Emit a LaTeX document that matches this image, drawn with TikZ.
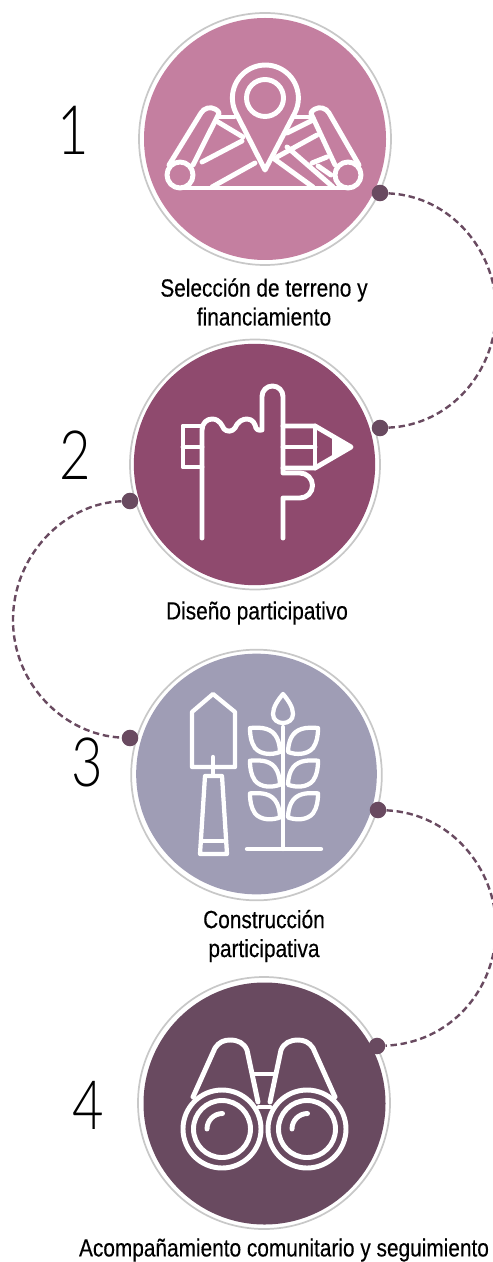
\documentclass[tikz,border=0pt]{standalone}
\usepackage{fontspec}
\setmainfont[FakeStretch=0.84,FakeBold=0.35]{Liberation Sans}
\newfontfamily\numfont[FakeStretch=0.8]{Lato Light}
\definecolor{cone}{HTML}{C47FA0}
\definecolor{ctwo}{HTML}{8F4A6E}
\definecolor{cthree}{HTML}{9F9DB5}
\definecolor{cfour}{HTML}{694A60}
\definecolor{ring}{HTML}{C8C8C8}
\tikzset{
  ringline/.style={draw=ring,line width=1.3pt},
  dot/.style={circle,fill=cfour,inner sep=0pt,minimum size=12.4pt},
  link/.style={draw=cfour,line width=1.8pt,dash pattern=on 4.8pt off 2.8pt},
  ic/.style={draw=white,line width=3.7pt,line join=round,line cap=round},
  icthin/.style={draw=white,line width=3.2pt,line join=round,line cap=round},
  captext/.style={font=\fontsize{18.6}{21.7}\selectfont,text=black,inner sep=0pt,align=center},
  num/.style={font=\fontsize{51}{60}\numfont,text=black,inner sep=0pt}
}
\begin{document}
\begin{tikzpicture}[x=0.75pt,y=-0.75pt]
\useasboundingbox (0,0) rectangle (492,1262);
% discs
\node[circle,ringline,inner sep=0pt,minimum size=189pt] (r1) at (265,139) {};
\node[circle,fill=cone,inner sep=0pt,minimum size=181.5pt] (c1) at (265,139) {};
\node[circle,ringline,inner sep=0pt,minimum size=187.5pt] (r2) at (255,464.5) {};
\node[circle,fill=ctwo,inner sep=0pt,minimum size=181pt] (c2) at (254.5,464.5) {};
\node[circle,ringline,inner sep=0pt,minimum size=188pt] (r3) at (256.5,775) {};
\node[circle,fill=cthree,inner sep=0pt,minimum size=180.5pt] (c3) at (256.5,774) {};
\node[circle,ringline,inner sep=0pt,minimum size=189pt] (r4) at (264,1103) {};
\node[circle,fill=cfour,inner sep=0pt,minimum size=181.5pt] (c4) at (264.5,1103.5) {};
% dots
\node[dot] (d1) at (380,193) {};
\node[dot] (d2) at (380,428) {};
\node[dot] (d3) at (130,501) {};
\node[dot] (d4) at (130,738) {};
\node[dot] (d5) at (378,810) {};
\node[dot] (d6) at (377,1046) {};
% connectors
\draw[link] (d1) .. controls (450,196) and (496,250) .. (496,310) .. controls (496,372) and (450,425) .. (d2);
\draw[link] (d3) .. controls (65,503) and (13,555) .. (13,620) .. controls (13,685) and (65,735) .. (d4);
\draw[link] (d5) .. controls (450,813) and (496,868) .. (496,928) .. controls (496,990) and (450,1043) .. (d6);
% icon 1 map
\begin{scope}[ic]
\draw (265,170) -- (236,113) arc[start angle=153,end angle=387,radius=33] -- cycle;
\draw (265,98) circle[radius=18.5];
\draw (180,175) circle[radius=13];
\draw (348,175) circle[radius=13];
\draw (180,188) -- (348,188);
\draw (169,165) -- (201,113) arc[start angle=210,end angle=330,radius=10.5] -- (193,165);
\draw (359,165) -- (329,113) arc[start angle=330,end angle=210,radius=10.5] -- (335,165);
\draw (220,117) -- (234,117);
\draw (294,117) -- (310,117);
\draw (218,122) -- (243,137);
\draw (202,162) -- (242,141);
\draw (212,187) -- (255,163);
\draw (273,158) -- (313,187);
\draw (287,147) -- (333,187);
\draw (277,157) -- (317,135);
\draw (287,133) -- (313,120);
\draw (312,163) -- (327,157);
\draw (318,166) -- (331,175);
\end{scope}
% icon 2 hand
\begin{scope}[ic]
\draw (202,538) -- (202,430) .. controls (202,423) and (207,419) .. (212,419) .. controls (220,419) and (222,426) .. (224,429) .. controls (227,432) and (232,432) .. (235,428) .. controls (238,421) and (243,419) .. (247,419) .. controls (253,419) and (255,424) .. (256,428) .. controls (258,431) and (260,430) .. (262,430) -- (262,396.5) arc[start angle=180,end angle=360,radius=10.5] -- (283,473) -- (300,473) arc[start angle=-90,end angle=90,radius=12.5] -- (283,498) -- (283,538);
\draw (202,426) -- (183,426) -- (183,467) -- (202,467);
\draw (183,447) -- (202,447);
\draw (283,426) -- (315,426) -- (351,447) -- (315,468) -- (283,468);
\draw (315,426) -- (315,468);
\draw (283,447) -- (315,447);
\fill[white] (332,436) -- (352,447) -- (332,458) -- cycle;
\end{scope}
% icon 3 shovel and plant
\begin{scope}[icthin]
\draw (192,712) -- (213,694) -- (235,712) -- (235,767) -- (192,767) -- cycle;
\draw (213,757) -- (213,775);
\draw (205,776) -- (222,776) -- (227,854) -- (200,854) -- cycle;
\draw (203,841) -- (223,841);
\draw (283,727) -- (283,849);
\draw (247,849) -- (321,849);
\draw (283,694) .. controls (278,700) and (273,707) .. (273,714) .. controls (273,720) and (278,723) .. (283,723) .. controls (288,723) and (293,720) .. (293,714) .. controls (293,707) and (288,700) .. (283,694) -- cycle;
\foreach \dy in {0,32.7,65.4}{
  \begin{scope}[yshift=-\dy*0.75pt]
  \draw (250,728) .. controls (262,727) and (272,728) .. (277,738) .. controls (279,742) and (280,748) .. (280,752) .. controls (272,755) and (261,755) .. (255,748) .. controls (251,742) and (250,736) .. (250,728) -- cycle;
  \draw (318,728) .. controls (306,727) and (296,728) .. (291,738) .. controls (289,742) and (288,748) .. (288,752) .. controls (296,755) and (307,755) .. (313,748) .. controls (317,742) and (318,736) .. (318,728) -- cycle;
  \end{scope}
}
\end{scope}
% icon 4 binoculars
\begin{scope}[ic]
\draw (222,1129) circle[radius=39];
\draw (307,1129) circle[radius=39];
\draw (222,1129) circle[radius=28.5];
\draw (307,1129) circle[radius=28.5];
\draw (207,1129) arc[start angle=180,end angle=270,radius=15.5];
\draw (292,1129) arc[start angle=180,end angle=270,radius=15.5];
\draw (193,1097) -- (215,1048) .. controls (219,1042) and (224,1040) .. (230,1040) .. controls (238,1040) and (244,1043) .. (247,1050) -- (258,1102);
\draw (335,1097) -- (313,1048) .. controls (309,1042) and (304,1040) .. (298,1040) .. controls (290,1040) and (284,1043) .. (281,1050) -- (270,1102);
\draw (253,1074) -- (275,1074);
\draw (259,1107) -- (270,1107);
\end{scope}
% captions
\node[captext] (t1) at (264,302) {Selección de terreno y\\financiamiento};
\node[captext] (t2) at (257,613) {Diseño participativo};
\node[captext] (t3) at (264,936) {Construcción\\participativa};
\node[captext] (t4) at (284,1250) {Acompañamiento comunitario y seguimiento};
% numbers
\node[num] (n1) at (73,130) {1};
\node[num] (n2) at (75,455) {2};
\node[num] (n3) at (87,762) {3};
\node[num] (n4) at (88,1105) {4};
\end{tikzpicture}
\end{document}
